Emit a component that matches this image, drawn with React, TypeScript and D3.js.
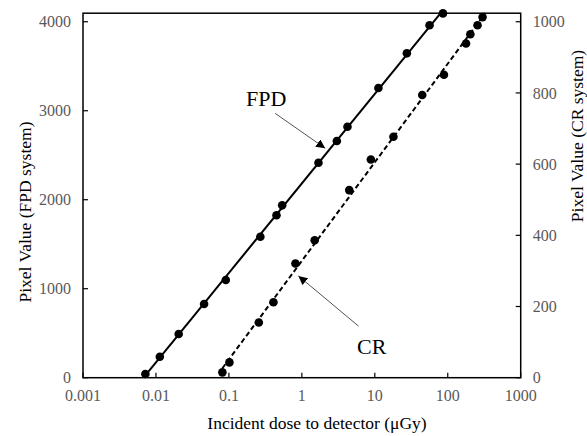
import React from "react";
import * as d3 from "d3";

const fpdDose = [0.00716, 0.0113, 0.0205, 0.0457, 0.0906, 0.27, 0.449, 0.537, 1.69, 3.02, 4.22, 11.2, 27.5, 56.3, 85.9];
const fpdValue = [42, 236, 491, 828, 1098, 1584, 1825, 1937, 2416, 2660, 2820, 3255, 3645, 3960, 4094];
const crDose = [0.0814, 0.1016, 0.257, 0.408, 0.817, 1.5, 4.46, 8.83, 18.0, 44.7, 88.7, 178, 204, 256, 300];
const crValue = [15, 43, 155, 212, 321, 386, 527, 613, 677, 794, 851, 939, 965, 990, 1013];

const xTicks = [0.001, 0.01, 0.1, 1, 10, 100, 1000];
const xTickLabels = ["0.001", "0.01", "0.1", "1", "10", "100", "1000"];
const leftTicks = [0, 1000, 2000, 3000, 4000];
const rightTicks = [0, 200, 400, 600, 800, 1000];

const W = 587, H = 436;
const L = 83, R = 520.7, T = 13.2, B = 377.7;

function fit(xs: number[], ys: number[]) {
  const lx = xs.map(Math.log10);
  const mx = d3.mean(lx)!, my = d3.mean(ys)!;
  let num = 0, den = 0;
  lx.forEach((v, i) => { num += (v - mx) * (ys[i] - my); den += (v - mx) * (v - mx); });
  const slope = num / den;
  const icpt = my - slope * mx;
  return { slope, icpt };
}

export default function App() {
  const x = d3.scaleLog().domain([0.001, 1000]).range([L, R]);
  const yL = d3.scaleLinear().domain([0, 4096]).range([B, T]);
  const yR = d3.scaleLinear().domain([0, 1024]).range([B, T]);

  const fitLine = (xs: number[], ys: number[], ymax: number) => {
    const f = fit(xs, ys);
    const x0 = Math.pow(10, (Math.max(0, f.slope * Math.log10(xs[0]) + f.icpt) - f.icpt) / f.slope);
    const x1 = Math.pow(10, (ymax - f.icpt) / f.slope);
    return [[x0, f.slope * Math.log10(x0) + f.icpt], [x1, ymax]];
  };
  const fpdFit = fitLine(fpdDose, fpdValue, 4096);
  const crFit = fitLine(crDose, crValue, 1024);

  const lineL = d3.line<number[]>().x(d => x(d[0])).y(d => yL(d[1]));
  const lineR = d3.line<number[]>().x(d => x(d[0])).y(d => yR(d[1]));

  const tickColor = "#595959";
  const font = "'Liberation Serif', 'Times New Roman', serif";

  return (
    <svg width={W} height={H} style={{ position: "absolute", left: 0, top: 0, background: "#fff" }} fontFamily={font}>
      <defs>
        <clipPath id="plot"><rect x={L} y={T - 6} width={R - L} height={B - T + 6} /></clipPath>
        <marker id="arr" viewBox="0 0 10 10" refX="10" refY="5" markerWidth="9" markerHeight="9" markerUnits="userSpaceOnUse" orient="auto">
          <path d="M0,0 L10,5 L0,10 z" fill="#000" />
        </marker>
      </defs>
      <rect x={0} y={0} width={W} height={H} fill="#fff" />
      <g clipPath="url(#plot)">
        <path d={lineL(fpdFit)!} fill="none" stroke="#000" strokeWidth={2} />
        <path d={lineR(crFit)!} fill="none" stroke="#000" strokeWidth={2} strokeDasharray="5,3" />
      </g>
      {fpdDose.map((d, i) => (
        <circle key={"f" + i} cx={x(d)} cy={yL(fpdValue[i])} r={4.3} fill="#000" />
      ))}
      {crDose.map((d, i) => (
        <circle key={"c" + i} cx={x(d)} cy={yR(crValue[i])} r={4.3} fill="#000" />
      ))}
      <rect x={L} y={T} width={R - L} height={B - T} fill="none" stroke="#000" strokeWidth={1.5} />
      {xTicks.map((t, i) => (
        <g key={"x" + i}>
          <line x1={x(t)} x2={x(t)} y1={B} y2={B - 5} stroke="#000" strokeWidth={1.2} />
          <text x={x(t)} y={B + 23} textAnchor="middle" fontSize={16} fill={tickColor}>{xTickLabels[i]}</text>
        </g>
      ))}
      {leftTicks.map((t, i) => (
        <g key={"l" + i}>
          <line x1={L} x2={L + 5} y1={yL(t)} y2={yL(t)} stroke="#000" strokeWidth={1.2} />
          <text x={L - 12} y={yL(t)} dy="0.35em" textAnchor="end" fontSize={16} fill={tickColor}>{t}</text>
        </g>
      ))}
      {rightTicks.map((t, i) => (
        <g key={"r" + i}>
          <line x1={R} x2={R - 5} y1={yR(t)} y2={yR(t)} stroke="#000" strokeWidth={1.2} />
          <text x={R + 12} y={yR(t)} dy="0.35em" textAnchor="start" fontSize={16} fill={tickColor}>{t}</text>
        </g>
      ))}
      <text x={317} y={429} textAnchor="middle" fontSize={17.5} fill="#000">Incident dose to detector (μGy)</text>
      <text transform={`translate(25,212) rotate(-90)`} textAnchor="middle" dy="0.35em" fontSize={17.5} fill="#000">Pixel Value (FPD system)</text>
      <text transform={`translate(577,136) rotate(-90)`} textAnchor="middle" dy="0.35em" fontSize={17.5} fill="#000">Pixel Value (CR system)</text>
      <text x={x(0.324)} y={yL(3137)} dy="0.35em" textAnchor="middle" fontSize={22} fill="#000">FPD</text>
      <line x1={x(0.43)} y1={yL(2971)} x2={x(2.087)} y2={yL(2578)} stroke="#404040" strokeWidth={0.9} markerEnd="url(#arr)" />
      <text x={x(9.08)} y={yR(89)} dy="0.35em" textAnchor="middle" fontSize={22} fill="#000">CR</text>
      <line x1={x(5.97)} y1={yR(145)} x2={x(0.897)} y2={yR(286)} stroke="#404040" strokeWidth={0.9} markerEnd="url(#arr)" />
    </svg>
  );
}
